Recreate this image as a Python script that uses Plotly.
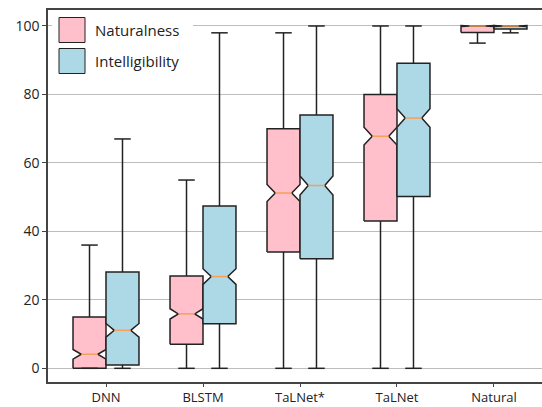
import plotly.graph_objects as go

# ---- data ----
categories = ["DNN", "BLSTM", "TaLNet*", "TaLNet", "Natural"]
positions = [1, 2, 3, 4, 5]

nat_lower = [0, 0, 0, 0, 95]
nat_q1 = [0, 7, 34, 43, 98.1]
nat_median = [4.1, 15.9, 51.2, 67.8, 100]
nat_q3 = [15, 27, 70, 80, 100]
nat_upper = [36, 55, 98, 100, 100]
nat_notch = [1.4, 1.5, 2.5, 2.6, 0.15]

int_lower = [0, 0, 0, 0, 98]
int_q1 = [1, 13, 32, 50.2, 99.1]
int_median = [11.1, 26.8, 53.4, 73.1, 100]
int_q3 = [28.1, 47.4, 74, 89.1, 100]
int_upper = [67, 98, 100, 100, 100]
int_notch = [2.0, 2.3, 2.8, 2.7, 0.15]

series_names = ["Naturalness", "Intelligibility"]
y_ticks = [0, 20, 40, 60, 80, 100]

# ---- style ----
PINK = "#FFC0CB"
BLUE = "#ADD8E6"
EDGE = "#222222"
MED = "#F5A05A"
FONT = "Open Sans"
BOX_W = 0.34
OFF = 0.17

W, H = 542, 407
ML, MR, MT, MB = 48, 0, 10, 25

fig = go.Figure()


def add_boxes(offset, lower, q1, med, q3, upper, notch, color):
    wx, wy, mx, my = [], [], [], []
    for p, lo, a, m, b, up, n in zip(positions, lower, q1, med, q3, upper, notch):
        c = p + offset
        L, R = c - BOX_W / 2, c + BOX_W / 2
        cl, cr = c - BOX_W / 4, c + BOX_W / 4
        # notched box outline (matplotlib style)
        bx = [L, R, R, cr, R, R, L, L, cl, L, L]
        by = [a, a, m - n, m, m + n, b, b, m + n, m, m - n, a]
        fig.add_trace(go.Scatter(x=bx, y=by, mode="lines", fill="toself",
                                 fillcolor=color, line=dict(color=EDGE, width=1.5),
                                 showlegend=False, hoverinfo="skip"))
        # whiskers and caps
        wx += [c, c, None, c, c, None, cl, cr, None, cl, cr, None]
        wy += [a, lo, None, b, up, None, lo, lo, None, up, up, None]
        mx += [cl, cr, None]
        my += [m, m, None]
    fig.add_trace(go.Scatter(x=wx, y=wy, mode="lines",
                             line=dict(color=EDGE, width=1.5),
                             showlegend=False, hoverinfo="skip"))
    fig.add_trace(go.Scatter(x=mx, y=my, mode="lines",
                             line=dict(color=MED, width=1.5),
                             showlegend=False, hoverinfo="skip"))


add_boxes(-OFF, nat_lower, nat_q1, nat_median, nat_q3, nat_upper, nat_notch, PINK)
add_boxes(OFF, int_lower, int_q1, int_median, int_q3, int_upper, int_notch, BLUE)

pw = W - ML - MR
ph = H - MT - MB


def px_x(x):
    return (x - ML) / pw


def px_y(y):
    return (H - MB - y) / ph


shapes = [
    # legend background
    dict(type="rect", xref="paper", yref="paper", x0=px_x(52), x1=px_x(193),
         y0=px_y(80), y1=px_y(12), fillcolor="white", line=dict(width=0),
         layer="above"),
    dict(type="rect", xref="paper", yref="paper", x0=px_x(59), x1=px_x(85),
         y0=px_y(42.5), y1=px_y(17.5), fillcolor=PINK,
         line=dict(color=EDGE, width=1), layer="above"),
    dict(type="rect", xref="paper", yref="paper", x0=px_x(59), x1=px_x(85),
         y0=px_y(73.5), y1=px_y(48.5), fillcolor=BLUE,
         line=dict(color=EDGE, width=1), layer="above"),
]
annotations = [
    dict(text=series_names[0], xref="paper", yref="paper", x=px_x(93), y=px_y(30.5),
         xanchor="left", yanchor="middle", showarrow=False,
         font=dict(family=FONT, size=15, color="#222")),
    dict(text=series_names[1], xref="paper", yref="paper", x=px_x(93), y=px_y(61),
         xanchor="left", yanchor="middle", showarrow=False,
         font=dict(family=FONT, size=15, color="#222")),
]

fig.update_layout(
    width=W, height=H,
    margin=dict(l=ML, r=MR, t=MT, b=MB, pad=0),
    paper_bgcolor="white", plot_bgcolor="white",
    font=dict(family=FONT, size=14, color="#222"),
    showlegend=False,
    shapes=shapes, annotations=annotations,
    xaxis=dict(range=[0.402, 5.495], tickvals=positions, ticktext=categories,
               showgrid=False, zeroline=False, showline=True, linecolor="#444",
               linewidth=1.5, mirror=True, ticks="outside", ticklen=3,
               tickcolor="#444", tickfont=dict(family=FONT, size=13),
               automargin=False),
    yaxis=dict(range=[-4.0, 104.67], tickvals=y_ticks, showgrid=True,
               gridcolor="#BDBDBD", gridwidth=1, zeroline=False, showline=True,
               linecolor="#444", linewidth=1.5, ticks="outside", ticklen=4,
               tickcolor="#444", tickfont=dict(family=FONT, size=14),
               automargin=False),
)

fig.write_html("out.html")
